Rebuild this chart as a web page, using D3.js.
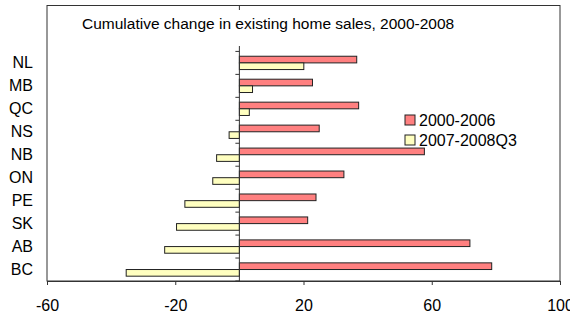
<!DOCTYPE html>
<html>
<head>
<meta charset="utf-8">
<script src="https://cdn.jsdelivr.net/npm/d3@7"></script>
<style>
  body { margin: 0; background: #fff; }
  svg { display: block; font-family: Arial, "Liberation Sans", sans-serif; }
</style>
</head>
<body>
<svg id="chart" width="570" height="318"></svg>
<script>
const categories = ["NL", "MB", "QC", "NS", "NB", "ON", "PE", "SK", "AB", "BC"];
const seriesNames = ["2000-2006", "2007-2008Q3"];
const values2000 = [36.6, 22.8, 37.2, 24.9, 57.7, 32.6, 23.9, 21.3, 71.9, 78.7];
const values2007 = [20.1, 4.1, 3.1, -3.2, -7.1, -8.3, -17.0, -19.6, -23.3, -35.3];
const xTicks = [-60, -20, 20, 60, 100];
const titleText = "Cumulative change in existing home sales, 2000-2008";

const colors = ["#ff8080", "#ffffc0"];
const margin = {left: 47, right: 10, top: 5.5, bottom: 37};
const width = 570, height = 318;

const svg = d3.select('#chart');
const innerWidth = width - margin.left - margin.right;
const innerHeight = height - margin.top - margin.bottom;

const g = svg.append('g')
    .attr('transform', `translate(${margin.left}, ${margin.top})`);

// two empty slots on top, where the title sits
const slots = ["_a", "_b", ...categories];

const xScale = d3.scaleLinear()
    .domain([-60, 100])
    .range([0, innerWidth]);

const yScale = d3.scaleBand()
    .domain(slots)
    .range([0, innerHeight]);

const step = yScale.step();
const barH = step * 0.29;
const groupOffset = (step - 2 * barH) / 2;

// plot area border
g.append('rect')
    .attr('x', 0)
    .attr('y', 0)
    .attr('width', innerWidth)
    .attr('height', innerHeight)
    .style('fill', 'none')
    .style('stroke', '#333')
    .style('stroke-width', 1);

const series = [values2000, values2007];

series.forEach((vals, si) => {
    g.selectAll(`.bar${si}`)
        .data(categories.map((c, i) => ({cat: c, value: vals[i]})))
        .join('rect')
        .classed(`bar${si}`, true)
        .attr('x', d => xScale(Math.min(0, d.value)))
        .attr('y', d => yScale(d.cat) + groupOffset + si * barH)
        .attr('width', d => Math.abs(xScale(d.value) - xScale(0)))
        .attr('height', barH)
        .style('fill', colors[si])
        .style('stroke', '#222')
        .style('stroke-width', 1);
});

// category axis at zero
const yAxis = g.append('g')
    .attr('transform', `translate(${xScale(0)}, 0)`);

yAxis.append('line')
    .attr('y1', 0)
    .attr('y2', innerHeight)
    .style('stroke', '#333');

yAxis.selectAll('.ytick')
    .data(d3.range(slots.length + 1))
    .join('line')
    .classed('ytick', true)
    .attr('x1', -4)
    .attr('x2', 0)
    .attr('y1', i => i * step)
    .attr('y2', i => i * step)
    .style('stroke', '#333');

// category labels on the far left
g.selectAll('.catLabel')
    .data(categories)
    .join('text')
    .classed('catLabel', true)
    .attr('x', -14)
    .attr('y', d => yScale(d) + step / 2)
    .style('text-anchor', 'end')
    .style('dominant-baseline', 'central')
    .style('font-size', '16px')
    .style('fill', '#000')
    .text(d => d);

// x axis
const xAxisGroup = g.append('g')
    .attr('transform', `translate(0, ${innerHeight})`)
    .call(d3.axisBottom(xScale)
        .tickValues(xTicks)
        .tickSize(4)
        .tickPadding(15)
        .tickFormat(d => String(d)));

xAxisGroup.select('.domain').style('stroke', '#333');
xAxisGroup.selectAll('.tick line').style('stroke', '#333');
xAxisGroup.selectAll('text')
    .style('font-size', '16px')
    .style('font-family', 'Arial, "Liberation Sans", sans-serif')
    .style('fill', '#000')
    .attr('dy', '0.71em');

// title with white background
const titleG = g.append('g');
const titleBg = titleG.append('rect').style('fill', '#fff');
const title = titleG.append('text')
    .attr('x', 82 - margin.left)
    .attr('y', 29 - margin.top)
    .style('font-size', '15.5px')
    .style('fill', '#000')
    .text(titleText);
const tb = title.node().getBBox();
titleBg
    .attr('x', tb.x - 6)
    .attr('y', 10 - margin.top)
    .attr('width', tb.width + 12)
    .attr('height', 36);

// legend
const legend = g.append('g')
    .attr('transform', `translate(${405 - margin.left}, ${115 - margin.top})`);

seriesNames.forEach((name, i) => {
    legend.append('rect')
        .attr('x', 0)
        .attr('y', i * 20)
        .attr('width', 10)
        .attr('height', 10)
        .style('fill', colors[i])
        .style('stroke', '#222');
    legend.append('text')
        .attr('x', 14)
        .attr('y', i * 20 + 5)
        .style('dominant-baseline', 'central')
        .style('font-size', '16px')
        .style('fill', '#000')
        .text(name);
});
</script>
</body>
</html>
